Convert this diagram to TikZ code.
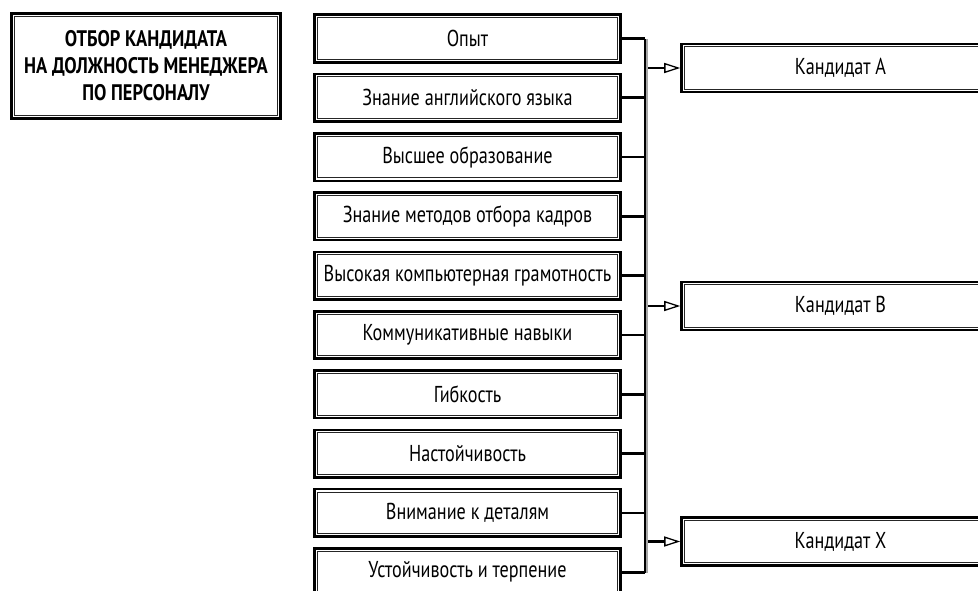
\documentclass[tikz,border=0pt]{standalone}
\usepackage{fontspec}
\setmainfont{PT Sans}[FakeStretch=0.79]
\newfontfamily\titlefont{PT Sans}[FakeStretch=0.82]
\usetikzlibrary{arrows.meta,calc}
\begin{document}
\begin{tikzpicture}[x=1pt,y=-1pt,
  outerbox/.style={draw=black, line width=2.6pt, fill=white, inner sep=0pt, align=center, font=\fontsize{23}{27}\selectfont},
  innerframe/.style={draw=black!85, line width=0.9pt},
  item/.style={outerbox, minimum width=306pt, minimum height=47.5pt},
  cand/.style={outerbox, minimum width=318pt, minimum height=48pt},
  conn/.style={draw=black, line width=2.6pt},
  arr/.style={draw=black, line width=2.6pt, -{Triangle[open, length=16pt, width=10pt, line width=1.3pt]}}
]
\useasboundingbox (0,0) rectangle (978,591);
\clip (0,0) rectangle (978,591);

\node[outerbox, minimum width=269pt, minimum height=105pt, font=\titlefont\bfseries\fontsize{22.5}{27}\selectfont] (t) at (146,66)
  {ОТБОР КАНДИДАТА\\НА ДОЛЖНОСТЬ МЕНЕДЖЕРА\\ПО ПЕРСОНАЛУ};

\foreach \i/\txt in {1/Опыт, 2/Знание английского языка, 3/Высшее образование, 4/Знание методов отбора кадров, 5/Высокая компьютерная грамотность, 6/Коммуникативные навыки, 7/Гибкость, 8/Настойчивость, 9/Внимание к деталям, 10/Устойчивость и терпение}
  \node[item] (c\i) at (467.5, {38.5+(\i-1)*59.3}) {\txt};

\node[cand] (ka) at (840.5,68) {Кандидат A};
\node[cand] (kb) at (840.5,306) {Кандидат B};
\node[cand] (kx) at (840.5,541.5) {Кандидат X};

\foreach \n in {t,c1,c2,c3,c4,c5,c6,c7,c8,c9,c10,ka,kb,kx}
  \draw[innerframe] ([shift={(4.2pt,-4.2pt)}]\n.north west) rectangle ([shift={(-4.2pt,4.2pt)}]\n.south east);

\coordinate (bt) at (645,39);
\coordinate (bb) at (645,572.5);

\foreach \i in {1,...,10}
  \draw[conn] (c\i.east) -- (c\i.east -| bt);

\draw[draw=black!35, line width=2.4pt] ([xshift=2.2pt]bt) -- ([xshift=2.2pt]bb);
\draw[draw=black, line width=1.6pt] (bt) -- (bb);

\foreach \k in {ka,kb,kx}
  \draw[arr] ([xshift=3.4pt]\k.west -| bt) -- (\k.west);
\end{tikzpicture}
\end{document}
